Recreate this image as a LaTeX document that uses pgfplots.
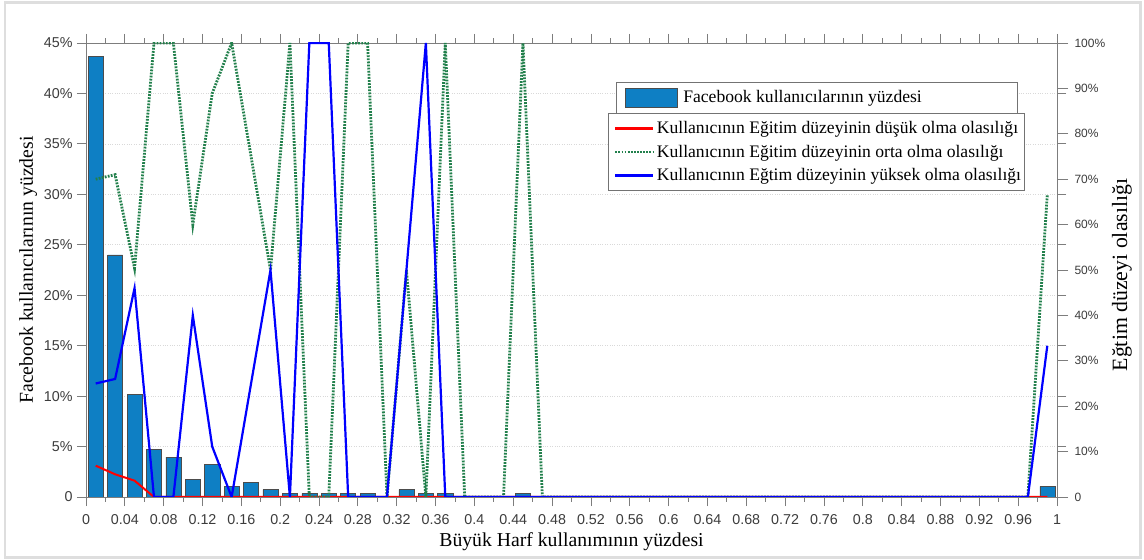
\documentclass[border=0pt]{standalone}
\usepackage{fontspec}
\setmainfont{Liberation Serif}
\setsansfont{Liberation Sans}
\usepackage{pgfplots}
\pgfplotsset{compat=1.18}
\usepackage{pgfplotstable}

\definecolor{barblue}{RGB}{14,127,196}
\definecolor{dgreen}{RGB}{34,128,76}
\definecolor{axgray}{RGB}{125,125,125}
\definecolor{ticklab}{RGB}{60,60,60}

\pgfplotstableread{
x y
0.01 43.7
0.03 24.0
0.05 10.2
0.07 4.7
0.09 3.96
0.11 1.78
0.13 3.24
0.15 1.06
0.17 1.46
0.19 0.73
0.21 0.36
0.23 0.36
0.25 0.36
0.27 0.36
0.29 0.36
0.33 0.73
0.35 0.36
0.37 0.36
0.45 0.36
0.99 1.06
}\bars

\pgfplotstableread{
x low mid high
0.01 6.9 70 25
0.03 5 71 26
0.05 3.6 50.4 46
0.07 0 100 0
0.09 0 100 0
0.11 0 60 40
0.13 0 88.9 11.1
0.15 0 100 0
0.17 0 75 25
0.19 0 50 50
0.21 0 100 0
0.23 0 0 100
0.25 0 0 100
0.27 0 100 0
0.29 0 100 0
0.31 0 0 0
0.33 0 50 50
0.35 0 0 100
0.37 0 100 0
0.39 0 0 0
0.41 0 0 0
0.43 0 0 0
0.45 0 100 0
0.47 0 0 0
0.49 0 0 0
0.51 0 0 0
0.53 0 0 0
0.55 0 0 0
0.57 0 0 0
0.59 0 0 0
0.61 0 0 0
0.63 0 0 0
0.65 0 0 0
0.67 0 0 0
0.69 0 0 0
0.71 0 0 0
0.73 0 0 0
0.75 0 0 0
0.77 0 0 0
0.79 0 0 0
0.81 0 0 0
0.83 0 0 0
0.85 0 0 0
0.87 0 0 0
0.89 0 0 0
0.91 0 0 0
0.93 0 0 0
0.95 0 0 0
0.97 0 0 0
0.99 0 66.7 33.3
}\probs

\begin{document}
\begin{tikzpicture}
\useasboundingbox (0,0) rectangle (1144bp,560bp);
\fill[white] (0,0) rectangle (1144bp,560bp);
\draw[black!13, line width=2.5bp] (5bp,2.5bp) rectangle (1140.5bp,557.5bp);

\pgfplotsset{
  common/.style={
    at={(86bp,63bp)}, anchor=south west,
    scale only axis, width=971bp, height=454bp,
    xmin=0, xmax=1,
    axis line style={axgray, line width=0.8bp},
    tick style={axgray, line width=0.8bp},
    tick align=outside,
    major tick length=9bp, minor tick length=4.5bp,
    label style={font=\rmfamily\fontsize{19.7bp}{22bp}\selectfont, text=black},
  }
}

\begin{axis}[common,
  ymin=0, ymax=45,
  xtick={0,0.04,0.08,0.12,0.16,0.2,0.24,0.28,0.32,0.36,0.4,0.44,0.48,0.52,0.56,0.6,0.64,0.68,0.72,0.76,0.8,0.84,0.88,0.92,0.96,1},
  xticklabels={0,0.04,0.08,0.12,0.16,0.2,0.24,0.28,0.32,0.36,0.4,0.44,0.48,0.52,0.56,0.6,0.64,0.68,0.72,0.76,0.8,0.84,0.88,0.92,0.96,1},
  minor x tick num=1,
  xtick pos=both, xticklabel pos=bottom,
  ytick={0,5,10,15,20,25,30,35,40,45},
  yticklabels={0,5\%,10\%,15\%,20\%,25\%,30\%,35\%,40\%,45\%},
  ytick pos=both, yticklabel pos=left,
  ymajorgrids,
  major grid style={black!15, dotted, line width=0.7bp},
  tick label style={font=\sffamily\fontsize{14.3bp}{16bp}\selectfont, text=ticklab},
  x tick label style={yshift=-5bp},
  y tick label style={xshift=-1bp},
  xlabel={Büyük Harf kullanımının yüzdesi},
  xlabel style={yshift=-1bp},
  ylabel={Facebook kullanıcılarının yüzdesi},
  legend style={at={(0.5458,0.914)}, anchor=north west,
    draw=black!55, line width=0.7bp, fill=white,
    font=\rmfamily\fontsize{17.6bp}{20bp}\selectfont,
    inner xsep=4bp, inner ysep=5.5bp},
  legend cell align=left,
]
\addplot[ybar, bar width=0.0155, fill=barblue, draw=black!70, line width=0.5bp,
  legend image code/.code={\path[draw=none, fill=none] (0bp,0bp) -- (61bp,0bp);
    \draw[fill=barblue, draw=black!70, line width=0.5bp] (5bp,-9.5bp) rectangle (57bp,9.5bp);}]
  table[x=x, y=y] {\bars};
\addlegendentry{\makebox[328bp][l]{Facebook kullanıcılarının yüzdesi}}
\end{axis}

\begin{axis}[common,
  ymin=0, ymax=100,
  hide x axis,
  ytick={0,10,20,30,40,50,60,70,80,90,100},
  yticklabels={0,10\%,20\%,30\%,40\%,50\%,60\%,70\%,80\%,90\%,100\%},
  ytick pos=right, yticklabel pos=right,
  major tick length=11bp,
  tick label style={font=\sffamily\fontsize{12bp}{14bp}\selectfont, text=ticklab},
  y tick label style={xshift=3bp},
  ylabel={Eğtim düzeyi olasılığı},
  ylabel style={font=\rmfamily\fontsize{21.8bp}{24bp}\selectfont, xshift=-5bp},
  legend style={at={(0.5376,0.8458)}, anchor=north west,
    draw=black!55, line width=0.7bp, fill=white,
    font=\rmfamily\fontsize{17.6bp}{20bp}\selectfont,
    inner xsep=1.5bp, inner ysep=6.3bp, row sep=5.8bp},
  legend cell align=left,
  legend image code/.code={\path[draw=none] (0bp,0bp) -- (45bp,0bp); \draw[#1] (5.5bp,0bp) -- (43.5bp,0bp);},
]
\addplot[red, line width=2bp] table[x=x, y=low] {\probs};
\addlegendentry{Kullanıcının Eğitim düzeyinin düşük olma olasılığı}
\addplot[dgreen, line width=2.8bp, dash pattern=on 1.8bp off 1.3bp] table[x=x, y=mid] {\probs};
\addlegendentry{Kullanıcının Eğitim düzeyinin orta olma olasılığı}
\addplot[blue, line width=2.2bp] table[x=x, y=high] {\probs};
\addlegendentry{Kullanıcının Eğtim düzeyinin yüksek olma olasılığı}
\end{axis}
\end{tikzpicture}
\end{document}
